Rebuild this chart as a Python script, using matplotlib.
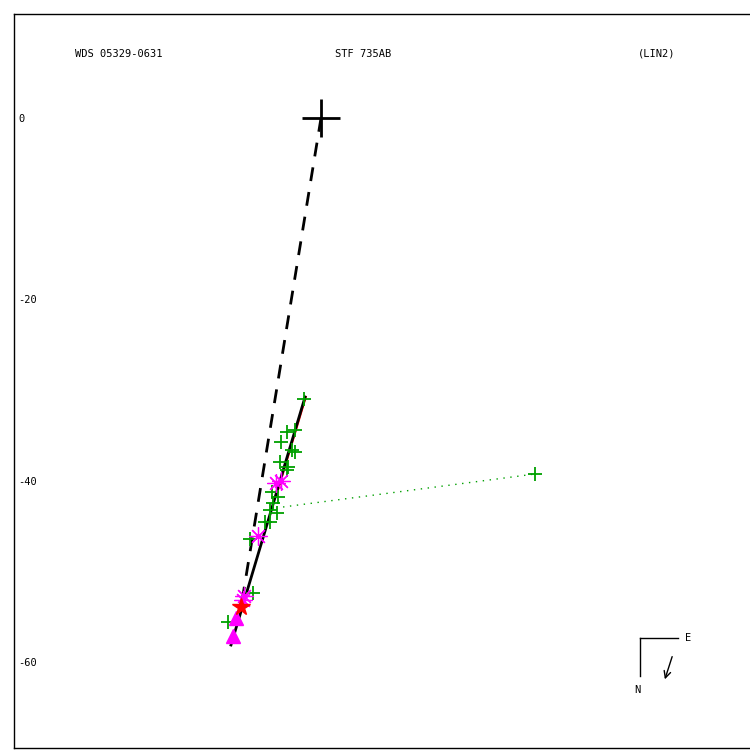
import matplotlib
matplotlib.use("Agg")
import matplotlib.pyplot as plt
from matplotlib.lines import Line2D

# ---- data (arcsec offsets relative to primary) ----
green_x = [-1.87, -3.75, -2.87, -4.41, -3.20, -2.87, -4.52, -3.64, -3.75, -5.40, -4.74,
           -5.29, -5.62, -4.85, -5.62, -6.18, -7.83, -7.50, -10.26, 23.60]
green_y = [-30.99, -34.63, -34.41, -35.73, -36.62, -36.84, -37.94, -38.49, -38.82, -41.25,
           -41.80, -42.46, -43.23, -43.56, -44.56, -44.56, -46.43, -52.39, -55.59, -39.26]
ast_x = [-4.96, -4.41, -6.95, -8.49, -8.60]
ast_y = [-40.26, -40.04, -46.10, -52.72, -53.16]
tri_x = [-9.37, -9.71]
tri_y = [-55.15, -57.13]
star_x = [-8.82]
star_y = [-53.93]
fit_x = [-1.76, -9.93]
fit_y = [-30.77, -58.12]
resid_x = [-4.19, 23.60]
resid_y = [-42.90, -39.26]
yticks = [0, -20, -40, -60]
ytick_labels = ["0", "-20", "-40", "-60"]
title_left = "WDS 05329-0631"
title_mid = "STF 735AB"
title_right = "(LIN2)"

W = 750
fig = plt.figure(figsize=(7.5, 7.5), dpi=100)
ax = fig.add_axes([14 / W, 2 / W, 736 / W, 734 / W])
ax.set_xlim(-33.86, 47.31)
ax.set_ylim(-69.48, 11.47)
ax.spines["right"].set_visible(False)
for s in ["left", "top", "bottom"]:
    ax.spines[s].set_linewidth(1.0)
ax.set_xticks([])
ax.set_yticks(yticks)
ax.set_yticklabels(ytick_labels, fontfamily="DejaVu Sans Mono", fontsize=7.5)
ax.tick_params(axis="y", length=0, pad=-3)
for lab in ax.get_yticklabels():
    lab.set_horizontalalignment("left")

green = "#00a000"
mag = "#ff00ff"

# dashed line primary -> predicted position
ax.plot([0, star_x[0]], [0, star_y[0]], color="black", lw=2, ls=(0, (5, 4)), zorder=2)
# residual dotted line
ax.plot(resid_x, resid_y, color=green, lw=1, ls=(0, (1, 4)), zorder=2)
# red line under fit
ax.plot([fit_x[0] + 0.08, -5.0 + 0.08], [fit_y[0], -41.6], color="red", lw=1.5, zorder=3)
# fit line
ax.plot(fit_x, fit_y, color="black", lw=2, zorder=4)

# measurements
ax.plot(green_x, green_y, ls="none", marker="+", ms=10, mew=1.3, color=green, zorder=5)
ax.plot(ast_x, ast_y, ls="none", marker=(8, 2, 0), ms=13, mew=0.9, color=mag, zorder=5)
ax.plot(tri_x, tri_y, ls="none", marker="^", ms=10, color=mag, mec=mag, zorder=5)
ax.plot(star_x, star_y, ls="none", marker="*", ms=13, color="red", mec="red", zorder=6)

# primary
ax.plot([0], [0], marker="+", ms=27, mew=2, color="black", zorder=7)

# titles
for txt, xp in [(title_left, 75), (title_mid, 335), (title_right, 638)]:
    fig.text(xp / W, 1 - 54 / W, txt, fontfamily="DejaVu Sans Mono", fontsize=7.5,
             ha="left", va="center")

# compass
def px(x, y):
    return x / W, 1 - y / W

fig.add_artist(Line2D(*zip(px(640, 638), px(678, 638)), color="black", lw=1))
fig.add_artist(Line2D(*zip(px(640, 638), px(640, 676)), color="black", lw=1))
fig.text(*px(685, 638), "E", fontfamily="DejaVu Sans Mono", fontsize=7.5, ha="left", va="center")
fig.text(*px(637, 690), "N", fontfamily="DejaVu Sans Mono", fontsize=7.5, ha="center", va="center")
ax.annotate("", xy=px(664, 682), xytext=px(673, 654), xycoords="figure fraction",
            textcoords="figure fraction",
            arrowprops=dict(arrowstyle="->", color="black", lw=1, mutation_scale=12))

fig.savefig("out.png", dpi=100)
